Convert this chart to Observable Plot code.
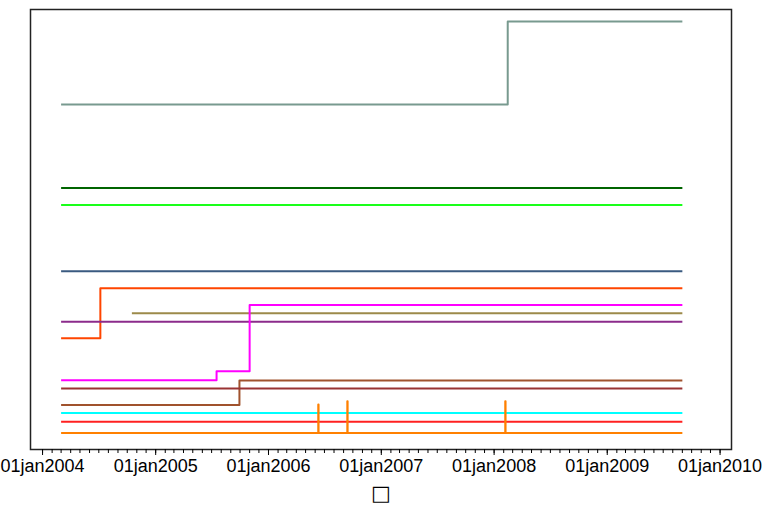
<!DOCTYPE html>
<html><head><meta charset="utf-8">
<script src="https://cdn.jsdelivr.net/npm/d3@7"></script>
<script src="https://cdn.jsdelivr.net/npm/@observablehq/plot@0.6"></script>
<style>body{margin:0;background:#fff;overflow:hidden;}</style>
</head><body><div id="chart"></div>
<script>
// Each series: [date, value] breakpoints (value holds until next breakpoint)
const seriesA = [["2004-03-01", 78.41], ["2008-02-14", 97.27], ["2009-09-01", 97.27]];
const seriesB = [["2004-03-01", 59.43], ["2009-09-01", 59.43]];
const seriesC = [["2004-03-01", 55.57], ["2009-09-01", 55.57]];
const seriesD = [["2004-03-01", 40.52], ["2009-09-01", 40.52]];
const seriesE = [["2004-03-01", 25.30], ["2004-07-06", 36.66], ["2009-09-01", 36.66]];
const seriesF = [["2004-10-16", 30.98], ["2009-09-01", 30.98]];
const seriesG = [["2004-03-01", 29.05], ["2009-09-01", 29.05]];
const seriesH = [["2004-03-01", 15.75], ["2005-07-17", 17.80], ["2005-11-01", 32.84], ["2009-09-01", 32.84]];
const seriesI = [["2004-03-01", 10.11], ["2005-09-29", 15.68], ["2009-09-01", 15.68]];
const seriesJ = [["2004-03-01", 13.86], ["2009-09-01", 13.86]];
const seriesK = [["2004-03-01", 8.30], ["2009-09-01", 8.30]];
const seriesL = [["2004-03-01", 6.30], ["2009-09-01", 6.30]];
const seriesM = [["2004-03-01", 3.75], ["2006-06-11", 10.23], ["2006-06-12", 3.75],
                 ["2006-09-13", 10.98], ["2006-09-14", 3.75],
                 ["2008-02-06", 10.98], ["2008-02-07", 3.75], ["2009-09-01", 3.75]];

const seriesList = [seriesA, seriesB, seriesC, seriesD, seriesE, seriesF, seriesG,
                    seriesH, seriesI, seriesJ, seriesK, seriesL, seriesM];
const seriesColors = ["#789a8f", "#006400", "#1aff1a", "#3a5a80", "#ff4500", "#9c8a4a",
                      "#8b2b8b", "#ff00ff", "#a0522d", "#993333", "#00ffff", "#ff2020", "#ff8000"];

const tickLabels = ["01jan2004", "01jan2005", "01jan2006", "01jan2007", "01jan2008", "01jan2009", "01jan2010"];
const tickDates = ["2004-01-01", "2005-01-01", "2006-01-01", "2007-01-01", "2008-01-01", "2009-01-01", "2010-01-01"];
const xTitle = "□";

const parse = d3.utcParse("%Y-%m-%d");
const majorTicks = tickDates.map(parse);
const minorTicks = d3.utcMonth.range(parse("2004-01-01"), parse("2010-01-02"));

const marks = [];
seriesList.forEach((s, i) => {
  const data = s.map(([d, v]) => ({date: parse(d), value: v}));
  marks.push(Plot.line(data, {x: "date", y: "value", stroke: seriesColors[i], strokeWidth: 2, curve: "step-after", strokeLinecap: "butt"}));
});

const chart = Plot.plot({
  width: 766,
  height: 506,
  marginLeft: 30,
  marginRight: 35,
  marginTop: 9,
  marginBottom: 57,
  style: {fontFamily: "'Liberation Sans', Arial, sans-serif", fontSize: "18px", background: "#fff", overflow: "visible"},
  x: {type: "utc", domain: [parse("2003-11-23"), parse("2010-02-07")], label: null},
  y: {domain: [0, 100], axis: null},
  marks: [
    ...marks,
    Plot.frame({stroke: "#222", strokeWidth: 1.5}),
    Plot.axisX(minorTicks, {tickSize: 4, tickFormat: () => "", label: null, stroke: "#000"}),
    Plot.axisX(majorTicks, {tickSize: 6, tickPadding: 4, tickFormat: (d, i) => tickLabels[majorTicks.findIndex(t => +t === +d)], label: null, stroke: "#000", fill: "#000", fontSize: 18}),
    Plot.text([xTitle], {frameAnchor: "bottom", dy: 50, fontSize: 21, fill: "#000", fontFamily: "'DejaVu Sans', sans-serif"})
  ]
});
document.getElementById("chart").appendChild(chart);
</script>
</body></html>
